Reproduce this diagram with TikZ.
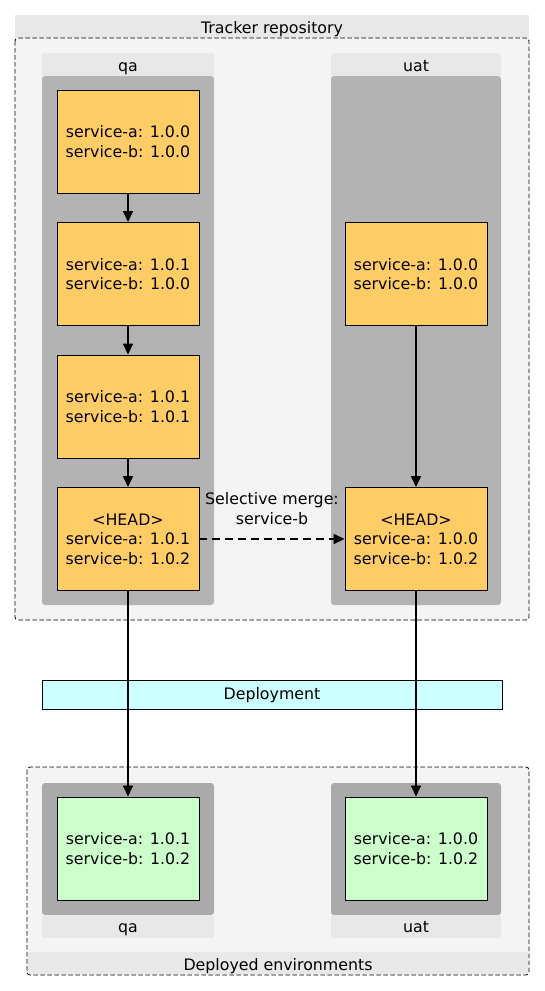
\documentclass[tikz,border=0pt]{standalone}
\usepackage{fontspec}
\setmainfont{DejaVu Sans}
\usetikzlibrary{arrows.meta}
\definecolor{grpbg}{HTML}{F4F4F4}
\definecolor{titlebg}{HTML}{E8E8E8}
\definecolor{lanebody}{HTML}{B3B3B3}
\definecolor{lanebodyd}{HTML}{AAAAAA}
\definecolor{orangec}{HTML}{FFCC66}
\definecolor{greenc}{HTML}{CCFFCC}
\definecolor{cyanc}{HTML}{CCFFFF}
\begin{document}
\begin{tikzpicture}[x=1pt,y=-1pt,
  font=\fontsize{15.8}{19.5}\selectfont,
  cfgbox/.style={draw, line width=0.9pt, minimum width=142pt, minimum height=103pt, align=center, inner sep=0pt},
  orangebox/.style={cfgbox, fill=orangec},
  greenbox/.style={cfgbox, fill=greenc},
  flow/.style={line width=1.6pt, -{Triangle[length=11pt,width=10pt]}},
  grpborder/.style={dash pattern=on 4.5pt off 2.5pt, line width=0.8pt, fill=grpbg, rounded corners=3pt},
  txt/.style={inner sep=0pt, align=center},
  lbl/.style={inner sep=0pt, text height=12.5pt, text depth=2.5pt}]
\useasboundingbox (0,0) rectangle (545,991);
\fill[white] (0,0) rectangle (545,991);

% Tracker repository group
\fill[titlebg] (15,15) rectangle (529,38);
\node[lbl] (trtitle) at (272,28) {Tracker repository};
\draw[grpborder] (15,38) rectangle (529,620);

% lanes
\fill[titlebg, rounded corners=2pt] (42,53) rectangle (214,76);
\fill[lanebody, rounded corners=3pt] (42,76) rectangle (214,605);
\node[lbl] (qalabel) at (128,66.5) {qa};
\fill[titlebg, rounded corners=2pt] (331,53) rectangle (501,76);
\fill[lanebody, rounded corners=3pt] (331,76) rectangle (501,605);
\node[lbl] (uatlabel) at (416,66.5) {uat};

% qa commits
\node[orangebox] (q1) at (128,141.5) {service-a: 1.0.0\\service-b: 1.0.0};
\node[orangebox] (q2) at (128,274) {service-a: 1.0.1\\service-b: 1.0.0};
\node[orangebox] (q3) at (128,406.5) {service-a: 1.0.1\\service-b: 1.0.1};
\node[orangebox] (q4) at (128,539) {<HEAD>\\service-a: 1.0.1\\service-b: 1.0.2};

% uat commits
\node[orangebox] (u1) at (416,274) {service-a: 1.0.0\\service-b: 1.0.0};
\node[orangebox] (u2) at (416,539) {<HEAD>\\service-a: 1.0.0\\service-b: 1.0.2};

\draw[flow] (q1) -- (q2);
\draw[flow] (q2) -- (q3);
\draw[flow] (q3) -- (q4);
\draw[flow] (u1) -- (u2);
\draw[flow, dash pattern=on 8pt off 5pt] (q4) -- (u2);
\node[txt] (mergelabel) at (272,508.5) {Selective merge:\\service-b};

% Deployment bar
\node[draw, line width=0.8pt, fill=cyanc, minimum width=460pt, minimum height=29pt, inner sep=0pt, text height=12.5pt, text depth=2.5pt] (deploy) at (272,694.5) {Deployment};

% Deployed environments group
\draw[grpborder] (27,767) rectangle (529,975);
\fill[titlebg] (27.6,952) rectangle (528.4,974.4);
\node[lbl] (deptitle) at (278,965) {Deployed environments};

\fill[lanebodyd, rounded corners=3pt] (42,783) rectangle (214,915);
\fill[titlebg, rounded corners=2pt] (42,915) rectangle (214,938);
\node[lbl] (dqalabel) at (128,927.5) {qa};
\fill[lanebodyd, rounded corners=3pt] (331,783) rectangle (501,915);
\fill[titlebg, rounded corners=2pt] (331,915) rectangle (501,938);
\node[lbl] (duatlabel) at (416,927.5) {uat};

\node[greenbox] (dq) at (128,848.5) {service-a: 1.0.1\\service-b: 1.0.2};
\node[greenbox] (du) at (416,848.5) {service-a: 1.0.0\\service-b: 1.0.2};

\draw[flow] (q4) -- (dq);
\draw[flow] (u2) -- (du);
\end{tikzpicture}
\end{document}
